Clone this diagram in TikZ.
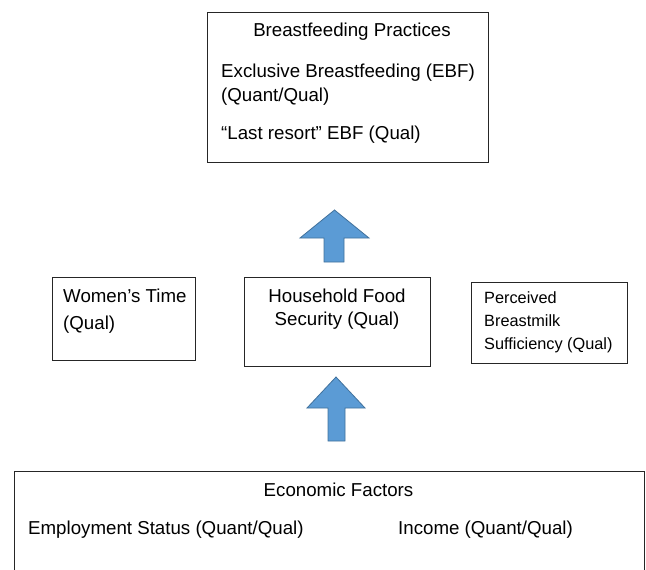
\documentclass[tikz,border=0pt]{standalone}
\usepackage{fontspec}
\setmainfont{Liberation Sans}
\definecolor{arrowblue}{HTML}{5B9BD5}
\definecolor{arrowedge}{HTML}{41719C}
\begin{document}
\begin{tikzpicture}[x=1pt,y=-1pt,
  box/.style={draw=black!85,line width=1pt,inner sep=0pt,outer sep=0pt,anchor=north west},
  blockarrow/.style={fill=arrowblue,draw=arrowedge,line width=0.8pt,line join=miter},
  lbl/.style={anchor=base west,inner sep=0pt,font=\fontsize{18.7}{22}\selectfont},
  clbl/.style={lbl,anchor=base},
  slbl/.style={lbl,font=\fontsize{16.3}{20}\selectfont}]
\useasboundingbox (0,0) rectangle (646,570);

% boxes
\node[box,minimum width=281pt,minimum height=150pt] (bfp) at (207,12) {};
\node[box,minimum width=143pt,minimum height=83pt]  (wt)  at (52,277) {};
\node[box,minimum width=186pt,minimum height=89pt]  (hfs) at (244,277) {};
\node[box,minimum width=156pt,minimum height=81pt]  (pbs) at (471,282) {};
\node[box,minimum width=630pt,minimum height=120pt] (eco) at (14,471) {};

% breastfeeding practices
\node[clbl] (bfpT) at (352,36) {Breastfeeding Practices};
\node[lbl] (bfp1) at (221,77) {Exclusive Breastfeeding (EBF)};
\node[lbl] (bfp2) at (221,101) {(Quant/Qual)};
\node[lbl] (bfp3) at (221,139) {“Last resort” EBF (Qual)};

% middle row
\node[lbl] (wt1) at (63,302) {Women’s Time};
\node[lbl] (wt2) at (63,329) {(Qual)};
\node[clbl] (hfs1) at (337,302) {Household Food};
\node[clbl] (hfs2) at (337,325) {Security (Qual)};
\node[slbl] (pbs1) at (484,303) {Perceived};
\node[slbl] (pbs2) at (484,326) {Breastmilk};
\node[slbl] (pbs3) at (484,349) {Sufficiency (Qual)};

% economic factors
\node[clbl] (ecoT) at (338.5,496) {Economic Factors};
\node[lbl] (eco1) at (28,534) {Employment Status (Quant/Qual)};
\node[lbl] (eco2) at (398,534) {Income (Quant/Qual)};

% block arrows
\draw[blockarrow] (324,262) -- (324,238) -- (300,238) -- (334.5,210)
  -- (369,238) -- (344,238) -- (344,262) -- cycle;
\draw[blockarrow] (328,441) -- (328,408) -- (307,408) -- (336,377)
  -- (365,408) -- (345,408) -- (345,441) -- cycle;
\end{tikzpicture}
\end{document}
